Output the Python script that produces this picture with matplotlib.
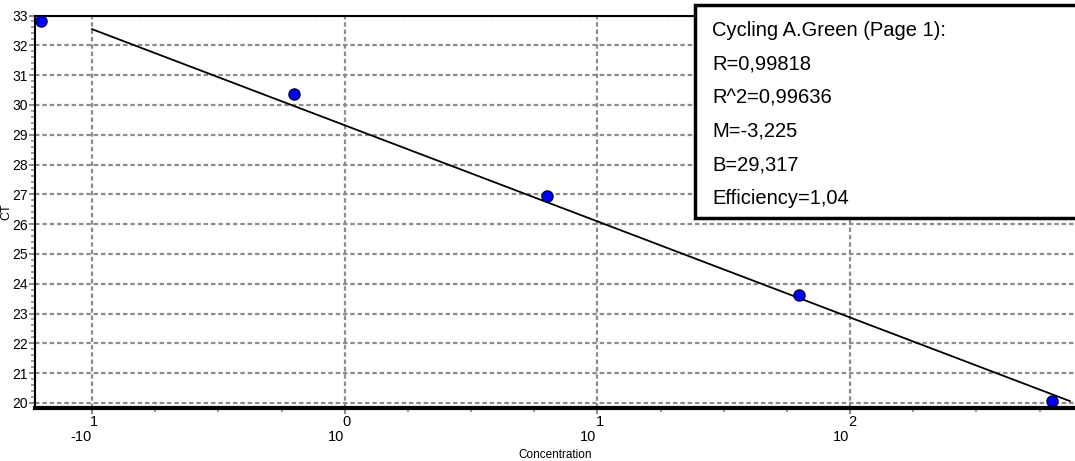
import matplotlib
matplotlib.use('Agg')
import matplotlib.pyplot as plt
import numpy as np
from matplotlib.patches import Rectangle
from matplotlib.ticker import FixedLocator, NullFormatter, MultipleLocator

plt.rcParams['font.family'] = ['Liberation Sans', 'DejaVu Sans']

# standard curve points
concentration = [0.063, 0.63, 6.3, 63, 630]
ct_values = [32.83, 30.38, 26.95, 23.62, 20.06]

# fit parameters (as shown in the box)
slope = -3.225
intercept = 29.317
fit_range = [0.1, 741]

decades = [-1, 0, 1, 2]
info_lines = ['Cycling A.Green (Page 1):', 'R=0,99818', 'R^2=0,99636',
              'M=-3,225', 'B=29,317', 'Efficiency=1,04']

fig = plt.figure(figsize=(10.75, 4.61), dpi=100)
ax = fig.add_axes([35 / 1075, 1 - 408 / 461, 1 - 35 / 1075, (408 - 15.5) / 461])

ax.set_xscale('log')
ax.set_xlim(10 ** -1.2256, 10 ** 2.89)
ax.set_ylim(19.83, 33)

fit_x = np.array(fit_range)
fit_y = slope * np.log10(fit_x) + intercept
ax.plot(fit_x, fit_y, color='black', lw=1.3, zorder=3)
ax.plot(concentration, ct_values, 'o', ms=8, mfc='#0000ff', mec='#000040', mew=1, zorder=4, clip_on=False)

ax.xaxis.set_major_locator(FixedLocator([10.0 ** d for d in decades]))
minor = [10.0 ** (d + f) for d in range(-2, 4) for f in (0.25, 0.5, 0.75)]
ax.xaxis.set_minor_locator(FixedLocator(minor))
ax.xaxis.set_major_formatter(NullFormatter())
ax.xaxis.set_minor_formatter(NullFormatter())
ax.yaxis.set_major_locator(MultipleLocator(1))
ax.yaxis.set_minor_locator(MultipleLocator(0.2))

ax.grid(True, which='major', color='#8c8c8c', ls=(0, (2, 1.3)), lw=1.6)
ax.tick_params(axis='both', which='major', length=4, width=1.5, color='#8c8c8c', labelsize=10, pad=1)
ax.tick_params(axis='both', which='minor', length=3, width=1.2, color='#8c8c8c')

ax.spines['right'].set_visible(False)
ax.spines['left'].set_linewidth(1.5)
ax.spines['top'].set_linewidth(1.5)
ax.spines['bottom'].set_linewidth(3)
ax.spines['bottom'].set_zorder(5)

# odd exponent labels like the original software
for d in decades:
    x = 10.0 ** d
    base = '-10' if d < 0 else '10'
    expo = str(abs(d))
    ax.annotate(expo, (x, 0), xycoords=('data', 'axes fraction'), xytext=(1.5, -5),
                textcoords='offset points', ha='center', va='top', fontsize=10.5)
    ax.annotate(base, (x, 0), xycoords=('data', 'axes fraction'), xytext=(-0.5, -15.5),
                textcoords='offset points', ha='right', va='top', fontsize=10.5)

ax.set_xlabel('Concentration', fontsize=8.5)
ax.xaxis.set_label_coords(0.5, -0.105)
ax.set_ylabel('CT', fontsize=9, labelpad=0)

box = Rectangle((695 / 1075, 1 - 218 / 461), 0.4, 213 / 461, transform=fig.transFigure,
                facecolor='white', edgecolor='black', lw=2.5, zorder=10)
fig.patches.append(box)
for i, line in enumerate(info_lines):
    fig.text(712 / 1075, 1 - (31 + i * 33.4) / 461, line, fontsize=14.5, va='center', ha='left', zorder=11)

fig.savefig('out.png', dpi=100)
